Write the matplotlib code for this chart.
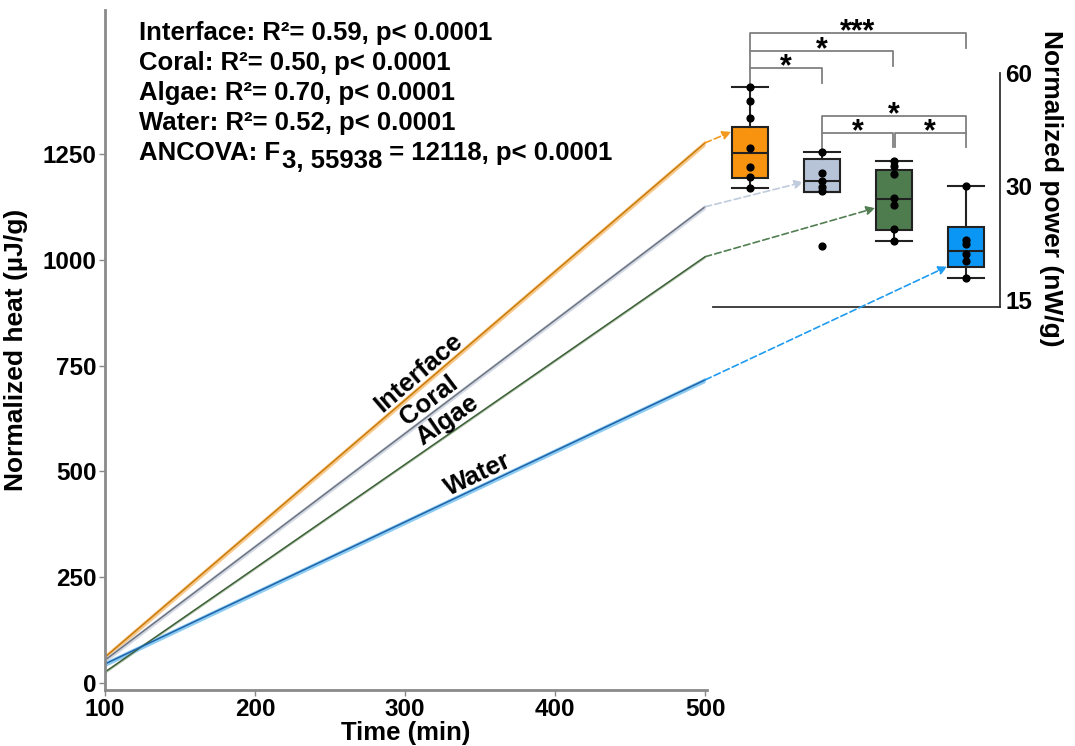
import numpy as np
import matplotlib
matplotlib.use('Agg')
from matplotlib import pyplot as plt
from matplotlib.patches import ConnectionPatch
from matplotlib.ticker import NullLocator

plt.rcParams['font.family'] = ['Liberation Sans', 'DejaVu Sans']
plt.rcParams['font.weight'] = 'bold'
plt.rcParams['axes.labelweight'] = 'bold'

# regression lines of cumulative heat, start and end of the 100-500 min window
time = [100, 500]
interface_heat = [61, 1276]
coral_heat = [54, 1125]
algae_heat = [26, 1007]
water_heat = [45, 716]
ci_half = [7, 6, 3, 6]

groups = ['Interface', 'Coral', 'Algae', 'Water']
label_at = [314, 321, 333, 352]

# normalized power per replicate (nW/g)
interface_power = [55.1, 50.6, 45.6, 38.0, 33.8, 31.8, 29.8]
coral_power = [37.0, 32.5, 31.1, 29.9, 29.2, 20.9]
algae_power = [35.1, 34.1, 32.4, 27.9, 26.8, 23.2, 21.5]
water_power = [30.1, 21.7, 21.1, 19.9, 19.0, 17.2]

box_q1 = [31.6, 29.0, 23.0, 18.4]
box_med = [36.8, 31.1, 27.8, 20.2]
box_q3 = [43.1, 35.4, 33.2, 23.4]
box_lo = [29.8, 29.0, 21.5, 17.2]
box_hi = [55.1, 37.0, 35.1, 30.1]

# where the dashed arrows land on each box
arrow_y = [41.9, 30.8, 26.3, 18.4]

# pairwise tests: (left box, right box, bar height, left drop, right drop, stars)
brackets = [
    (1, 4, 76.5, 68.6, 69.9, '***'),
    (1, 3, 68.6, 61.9, 62.6, '*'),
    (1, 2, 61.9, 55.1, 56.5, '*'),
    (2, 4, 46.1, 41.6, 41.6, '*'),
    (2, 3, 41.6, 37.0, 38.2, '*'),
    (3, 4, 41.6, 38.2, 38.2, '*'),
]

stats_lines = [
    'Interface: R\u00b2= 0.59, p< 0.0001',
    'Coral: R\u00b2= 0.50, p< 0.0001',
    'Algae: R\u00b2= 0.70, p< 0.0001',
    'Water: R\u00b2= 0.52, p< 0.0001',
]

line_colors = ['#c97c0c', '#6e7480', '#3f603b', '#1f63a8']
band_colors = ['#f8c98c', '#d3dae6', '#b4c8ae', '#8ccbf2']
box_colors = ['#f7930f', '#b7c3d7', '#4f7c4f', '#0a96f5']
arrow_colors = ['#f39a1e', '#c0cbdd', '#527f52', '#1f9bf0']

fig = plt.figure(figsize=(10.75, 7.46), dpi=100)
W, H = 1075, 746

# ---- heat vs time ----
ax = fig.add_axes([105 / W, 1 - 690 / H, 602 / W, 680 / H])
heats = [interface_heat, coral_heat, algae_heat, water_heat]
for i, h in enumerate(heats):
    h = np.array(h, dtype=float)
    ax.fill_between(time, h - ci_half[i], h + ci_half[i], color=band_colors[i], lw=0, zorder=1)
for i, h in enumerate(heats):
    ax.plot(time, h, color=line_colors[i], lw=1.1, zorder=2)

for i, h in enumerate(heats):
    ang = np.degrees(np.arctan2(h[1] - h[0], time[1] - time[0]))
    ax.text(label_at[i], np.interp(label_at[i], time, h), groups[i], fontsize=18.5,
            rotation=ang, rotation_mode='anchor', transform_rotates_text=True,
            ha='center', va='bottom')

ax.set_xlim(100, 501.3)
ax.set_ylim(-16.5, 1590)
ax.set_xticks([100, 200, 300, 400, 500])
ax.set_yticks([0, 250, 500, 750, 1000, 1250])
ax.tick_params(labelsize=17.5, length=4, width=1, color='#888888', pad=2)
for s in ['top', 'right']:
    ax.spines[s].set_visible(False)
for s in ['left', 'bottom']:
    ax.spines[s].set_color('#8a8a8a')
    ax.spines[s].set_linewidth(2)
ax.set_xlabel('Time (min)', fontsize=18.5)
ax.set_ylabel('Normalized heat (\u00b5J/g)', fontsize=19)
ax.xaxis.set_label_coords(0.5, -0.046)
ax.yaxis.set_label_coords(-0.128, 0.5)

for k, t in enumerate(stats_lines):
    fig.text(139 / W, 1 - (33 + 30 * k) / H, t, fontsize=18.5, va='center', ha='left')
t1 = fig.text(139 / W, 1 - 153 / H, 'ANCOVA: F', fontsize=18.5, va='center', ha='left')
t2 = ax.annotate('3, 55938', xy=(1, 0), xycoords=t1, xytext=(1, -6), textcoords='offset points',
                 fontsize=18.5, va='bottom', ha='left', annotation_clip=False)
ax.annotate(' = 12118, p< 0.0001', xy=(1, 0), xycoords=t2, xytext=(0, 6), textcoords='offset points',
            fontsize=18.5, va='bottom', ha='left', annotation_clip=False)

# ---- power boxes ----
bx = fig.add_axes([713 / W, 1 - 307 / H, 287 / W, 292 / H])
bx.set_yscale('log', base=2)
stats = []
for i in range(4):
    stats.append(dict(med=box_med[i], q1=box_q1[i], q3=box_q3[i],
                      whislo=box_lo[i], whishi=box_hi[i], fliers=[]))
pos = [1, 2, 3, 4]
bp = bx.bxp(stats, positions=pos, widths=0.5, capwidths=0.5, patch_artist=True,
            showfliers=False,
            boxprops=dict(edgecolor='#222222', linewidth=1.5),
            medianprops=dict(color='#222222', linewidth=1.5),
            whiskerprops=dict(color='#222222', linewidth=1.5),
            capprops=dict(color='#222222', linewidth=1.5))
for patch, c in zip(bp['boxes'], box_colors):
    patch.set_facecolor(c)

powers = [interface_power, coral_power, algae_power, water_power]
for i, p in enumerate(powers):
    bx.scatter([pos[i]] * len(p), p, s=24, color='black', zorder=5)

for a, b, top, ya, yb, star in brackets:
    xa = a + (0.015 if a == 3 else 0)
    xb = b - (0.015 if b == 3 else 0)
    bx.plot([xa, xa, xb, xb], [ya, top, top, yb], color='#808080', lw=1.3, zorder=3)
    bx.annotate(star, xy=((a + b) / 2, top), xytext=(0, -5), textcoords='offset points',
                ha='center', va='baseline', fontsize=22)

bx.set_xlim(0.486, 4.472)
bx.set_ylim(14.37, 85.5)
bx.set_xticks([])
bx.yaxis.tick_right()
bx.set_yticks([15, 30, 60])
bx.set_yticklabels(['15', '30', '60'])
bx.yaxis.set_minor_locator(NullLocator())
bx.tick_params(axis='y', labelsize=17.5, length=0, pad=4)
bx.spines['top'].set_visible(False)
bx.spines['left'].set_visible(False)
bx.spines['right'].set_bounds(14.37, 60)
for s in ['right', 'bottom']:
    bx.spines[s].set_color('#333333')
    bx.spines[s].set_linewidth(1.3)
bx.patch.set_alpha(0)

fig.text(1051 / W, 1 - 188 / H, 'Normalized power (nW/g)', fontsize=19,
         rotation=270, ha='center', va='center')

# dashed arrows from the end of each heat line to its box
for i, h in enumerate(heats):
    con = ConnectionPatch(xyA=(500, h[1]), coordsA=ax.transData,
                          xyB=(pos[i] - 0.26, arrow_y[i]), coordsB=bx.transData,
                          arrowstyle='-|>', mutation_scale=13, color=arrow_colors[i],
                          lw=1.2, linestyle=(0, (4, 2)))
    fig.add_artist(con)

fig.savefig('out.png', dpi=100)
